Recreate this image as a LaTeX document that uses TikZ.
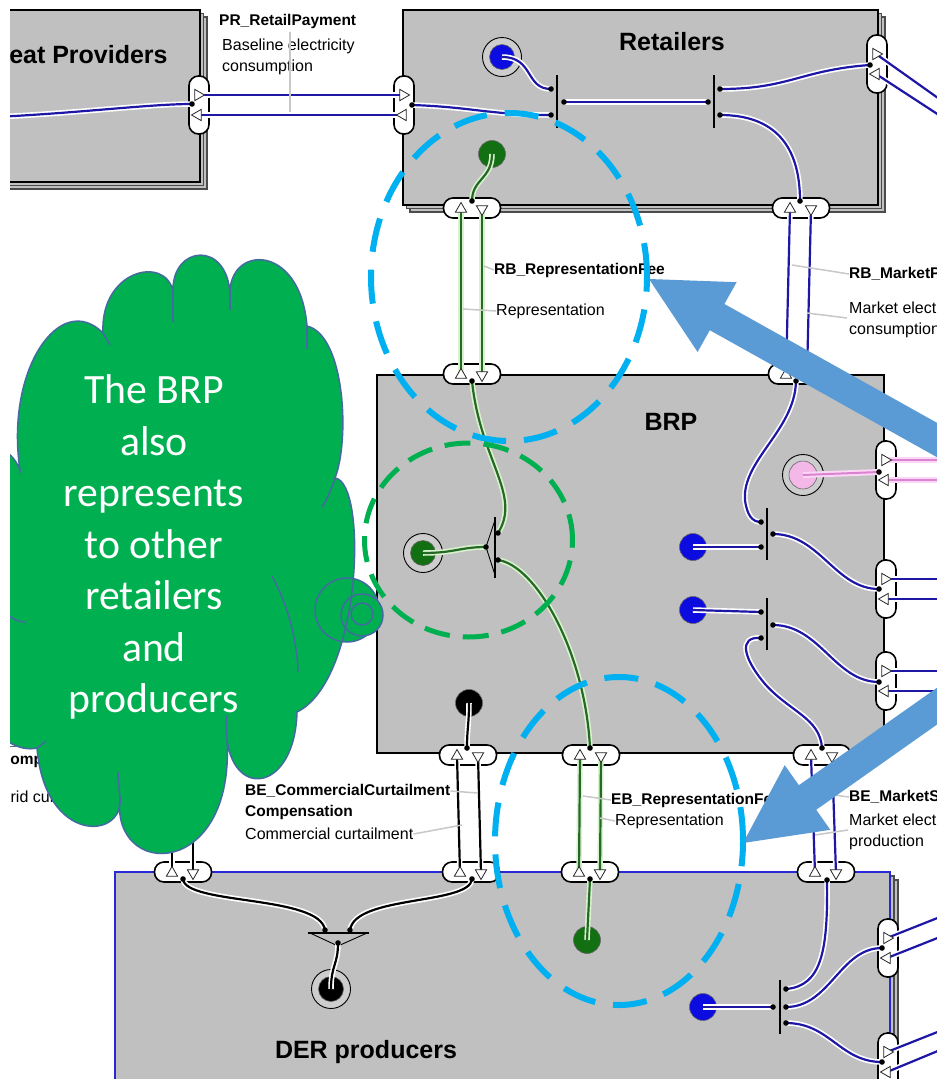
\documentclass[tikz,border=0pt]{standalone}
\usepackage{fontspec}
\setmainfont{Liberation Sans}
\newfontfamily\cloudfont{Carlito}
\usetikzlibrary{shapes.geometric}

\definecolor{boxgray}{RGB}{192,192,192}
\definecolor{wireblue}{RGB}{30,22,165}
\definecolor{wiregreen}{RGB}{38,105,38}
\definecolor{halogreen}{RGB}{215,242,205}
\definecolor{wirepink}{RGB}{220,130,210}
\definecolor{halopink}{RGB}{250,215,245}
\definecolor{leadgray}{RGB}{200,200,200}
\definecolor{ringblue}{RGB}{0,176,240}
\definecolor{ringgreen}{RGB}{0,176,80}
\definecolor{cloudgreen}{RGB}{0,176,80}
\definecolor{cloudedge}{RGB}{68,106,160}
\definecolor{arrowblue}{RGB}{91,155,213}
\definecolor{derblue}{RGB}{40,40,215}
\definecolor{pinkfill}{RGB}{244,184,232}
\definecolor{dotblue}{RGB}{12,12,225}
\definecolor{dotgreen}{RGB}{18,112,18}
\definecolor{ringgray}{RGB}{205,205,205}

% ports on top/bottom edges: pill plus the two triangle positions
\newcommand\hportdef[3]{%
  \node[hpill] (#1) at (#2,#3) {};
  \coordinate (#1-a) at (#2-11,#3+1);
  \coordinate (#1-b) at (#2+10,#3+1);}
% ports on side edges
\newcommand\vportdef[3]{%
  \node[vpill] (#1) at (#2,#3) {};
  \coordinate (#1-a) at (#2-1,#3-10);
  \coordinate (#1-b) at (#2-1,#3+10);}
\newcommand\hporttri[1]{%
  \node[tri] (#1-ta) at (#1-a) {};
  \node[tri, shape border rotate=180] (#1-tb) at (#1-b) {};}
\newcommand\vporttri[1]{%
  \node[tri, shape border rotate=-90] (#1-ta) at (#1-a) {};
  \node[tri, shape border rotate=90] (#1-tb) at (#1-b) {};}
% end point with a grey ring round it
\newcommand\ringend[4]{%
  \node[ringnode] (#1-ring) at (#2,#3) {};
  \node[endnode, fill=#4, minimum size=25pt] (#1) at (#2,#3) {};}
% outline of the thought cloud
\newcommand\cloudpath{(-15,720) .. controls (0,740) and (20,752) .. (37,748)
  .. controls (45,845) and (125,840) .. (120,797)
  .. controls (110,880) and (235,880) .. (227,740)
  .. controls (235,800) and (295,790) .. (297,712)
  .. controls (362,680) and (368,482) .. (335,478)
  .. controls (350,440) and (345,335) .. (307,326)
  .. controls (300,242) and (228,245) .. (230,295)
  .. controls (228,240) and (172,245) .. (173,291)
  .. controls (165,255) and (100,270) .. (103,333)
  .. controls (60,290) and (5,370) .. (20,470)
  .. controls (10,445) and (-10,445) .. (-15,460)}

\begin{document}
\begin{tikzpicture}[x=1pt, y=-1pt,
  box/.style={draw=black, line width=1.8pt, fill=boxgray, anchor=north west, inner sep=0pt, outer sep=0pt},
  layer/.style={draw=black!70, line width=1.1pt, fill=boxgray, anchor=north west, inner sep=0pt, outer sep=0pt},
  hpill/.style={draw=black, line width=1.6pt, fill=white, rounded corners=9.5pt, minimum width=57pt, minimum height=20pt, inner sep=0pt},
  vpill/.style={hpill, minimum width=20pt, minimum height=58pt},
  tri/.style={regular polygon, regular polygon sides=3, draw=black!85, fill=white, line width=0.8pt, minimum size=13pt, inner sep=0pt},
  ringnode/.style={circle, fill=ringgray, draw=black, line width=0.9pt, minimum size=39pt, inner sep=0pt},
  endnode/.style={circle, draw=black!60, line width=0.6pt, minimum size=27pt, inner sep=0pt},
  bw/.style={draw=wireblue, line width=2.2pt, preaction={draw=white, line width=5.5pt}},
  gw/.style={draw=wiregreen, line width=2.2pt, preaction={draw=halogreen, line width=5.5pt}},
  kw/.style={draw=black, line width=2.2pt, preaction={draw=white, line width=5.5pt}},
  pw/.style={draw=wirepink, line width=2pt, preaction={draw=halopink, line width=6pt}},
  bar/.style={draw=black, line width=1.2pt},
  lead/.style={draw=leadgray, line width=1.5pt},
  lbl/.style={font=\fontsize{15.5pt}{18pt}\selectfont\bfseries, anchor=west, inner sep=0pt},
  txt/.style={font=\fontsize{16pt}{20pt}\selectfont, anchor=west, inner sep=0pt},
  ttl/.style={font=\fontsize{25pt}{30pt}\selectfont\bfseries, inner sep=0pt},
  cloudline/.style={draw=cloudedge, line width=1.5pt},
]
\fill[white] (0,0) rectangle (937,1079);
\useasboundingbox (0,0) rectangle (937,1079);
\begin{scope}
\clip (10,0) rectangle (937,1079);

% ---------- boxes ----------
\node[layer, minimum width=220pt, minimum height=172pt] (hpL2) at (-13,17) {};
\node[layer, minimum width=220pt, minimum height=172pt] (hpL1) at (-16.5,13.5) {};
\node[box, minimum width=220pt, minimum height=172pt] (hp) at (-20,10) {};

\node[layer, minimum width=475pt, minimum height=195pt] (rtL2) at (410,17) {};
\node[layer, minimum width=475pt, minimum height=195pt] (rtL1) at (406.5,13.5) {};
\node[box, minimum width=475pt, minimum height=195pt] (rt) at (403,10) {};

\node[box, minimum width=507pt, minimum height=378pt] (bp) at (377,375) {};

\node[layer, minimum width=775pt, minimum height=260pt] (dtL2) at (123,880) {};
\node[layer, minimum width=775pt, minimum height=260pt] (dtL1) at (119,876) {};
\node[box, draw=derblue, line width=2.2pt, minimum width=775pt, minimum height=260pt] (dt) at (115,872) {};

\node[ttl, anchor=west] (hpTitle) at (-9,55) {Heat Providers};
\node[ttl] (rtTitle) at (672,42) {Retailers};
\node[ttl] (bpTitle) at (671,422) {BRP};
\node[ttl] (dtTitle) at (366,1052) {DER producers};

% ---------- ports ----------
\vportdef{hpR}{199}{105}
\vportdef{rtL}{404}{105}
\vportdef{rtR}{877}{64}
\hportdef{rtB1}{472}{208}
\hportdef{rtB2}{801}{208}
\hportdef{bpT1}{472}{374}
\hportdef{bpT2}{797}{374}
\vportdef{bpR1}{886}{470}
\vportdef{bpR2}{886}{589}
\vportdef{bpR3}{886}{681}
\hportdef{bpB1}{468}{755}
\hportdef{bpB2}{591}{755}
\hportdef{bpB3}{822}{755}
\hportdef{dtT1}{183}{872}
\hportdef{dtT2}{471}{872}
\hportdef{dtT3}{590}{872}
\hportdef{dtT4}{826}{872}
\vportdef{drR1}{888}{948}
\vportdef{drR2}{888}{1062}

% ---------- end points ----------
\ringend{rtBlue}{502}{57}{dotblue}
\node[endnode, fill=dotgreen] (rtGreen) at (492,154) {};
\ringend{bpGreen}{423}{553}{dotgreen}
\node[endnode, fill=black] (bpBlack) at (469,703) {};
\node[endnode, fill=dotblue] (bpBlue1) at (693,547) {};
\node[endnode, fill=dotblue] (bpBlue2) at (693,610) {};
\node[ringnode, minimum size=41pt] (bpPink-ring) at (803,475) {};
\node[endnode, fill=pinkfill, minimum size=28pt] (bpPink) at (803,475) {};
\ringend{dtBlack}{331}{989}{black}
\node[endnode, fill=dotgreen] (dtGreen) at (587,940) {};
\node[endnode, fill=dotblue] (dtBlue) at (703,1007) {};

% ---------- connection points ----------
\coordinate (hpIn) at (-5,117);
\coordinate (dHpR) at (192,104);
\coordinate (dRtL) at (412,105);
\coordinate (j1a) at (551,89);
\coordinate (j1b) at (564,102);
\coordinate (j1c) at (551,115);
\coordinate (j2a) at (708,102);
\coordinate (j2b) at (720,89);
\coordinate (j2c) at (720,115);
\coordinate (dRtR) at (870,65);
\coordinate (dRtB1) at (472,201);
\coordinate (dRtB2) at (800,201);
\coordinate (dBpT1) at (472,381);
\coordinate (dBpT2) at (796,381);
\coordinate (s1a) at (498,533);
\coordinate (s1b) at (486,547);
\coordinate (s1c) at (498,560);
\coordinate (k1a) at (761,522);
\coordinate (k1b) at (761,547);
\coordinate (k1c) at (773,534);
\coordinate (k2a) at (761,612);
\coordinate (k2b) at (773,625);
\coordinate (k2c) at (761,638);
\coordinate (dBpR1) at (879,472);
\coordinate (dBpR2) at (879,589);
\coordinate (dBpR3) at (879,682);
\coordinate (dBpB1) at (467,748);
\coordinate (dBpB2) at (590,748);
\coordinate (dBpB3) at (822,748);
\coordinate (dDtT1) at (183,879);
\coordinate (dDtT2) at (472,879);
\coordinate (dDtT3) at (590,879);
\coordinate (dDtT4) at (827,880);
\coordinate (t1) at (325,930);
\coordinate (t2) at (350,930);
\coordinate (t3) at (338,943);
\coordinate (m0) at (773,1007);
\coordinate (m1) at (786,989);
\coordinate (m2) at (786,1007);
\coordinate (m3) at (786,1023);
\coordinate (dDrR1) at (882,948);
\coordinate (dDrR2) at (882,1062);
\coordinate (gcUpA) at (172,780);
\coordinate (gcUpB) at (193,780);
\coordinate (rtOutA) at (945,103);
\coordinate (rtOutB) at (945,119);
\coordinate (bpOut1a) at (945,460);
\coordinate (bpOut1b) at (945,480);
\coordinate (bpOut2a) at (945,579);
\coordinate (bpOut2b) at (945,599);
\coordinate (bpOut3a) at (945,671);
\coordinate (bpOut3b) at (945,691);
\coordinate (drOut1a) at (945,915);
\coordinate (drOut1b) at (945,935);
\coordinate (drOut2a) at (945,1029);
\coordinate (drOut2b) at (945,1048);

% ---------- splitters and junction bars ----------
\draw[bar] (557,75) -- (557,128);
\draw[bar] (714,75) -- (714,128);
\draw[bar] (767,508) -- (767,560);
\draw[bar] (767,598) -- (767,650);
\draw[bar] (780,980) -- (780,1034);
\draw[black, line width=0.9pt, fill=boxgray] (486,547) -- (495,520) -- (495,575) -- cycle;
\draw[bar] (495,517) -- (495,578);
\draw[black, line width=0.9pt, fill=boxgray] (310,933) -- (367,933) -- (338,946) -- cycle;
\draw[bar] (308,933) -- (369,933);

% ---------- flows between boxes ----------
\draw[bw] (hpR-a) -- (rtL-a);
\draw[bw] (hpR-b) -- (rtL-b);
\draw[gw] (rtB1-a) -- (bpT1-a);
\draw[gw] (rtB1-b) -- (bpT1-b);
\draw[bw] (rtB2-a) -- (bpT2-a);
\draw[bw] (rtB2-b) -- (bpT2-b);
\draw[kw] (bpB1-a) -- (dtT2-a);
\draw[kw] (bpB1-b) -- (dtT2-b);
\draw[gw] (bpB2-a) -- (dtT3-a);
\draw[gw] (bpB2-b) -- (dtT3-b);
\draw[bw] (bpB3-a) -- (dtT4-a);
\draw[bw] (bpB3-b) -- (dtT4-b);
\draw[kw] (dtT1-a) -- (gcUpA);
\draw[kw] (dtT1-b) -- (gcUpB);
\draw[bw] (rtR-a) -- (rtOutA);
\draw[bw] (rtR-b) -- (rtOutB);
\draw[pw] (bpR1-a) -- (bpOut1a);
\draw[pw] (bpR1-b) -- (bpOut1b);
\draw[bw] (bpR2-a) -- (bpOut2a);
\draw[bw] (bpR2-b) -- (bpOut2b);
\draw[bw] (bpR3-a) -- (bpOut3a);
\draw[bw] (bpR3-b) -- (bpOut3b);
\draw[bw] (drR1-a) -- (drOut1a);
\draw[bw] (drR1-b) -- (drOut1b);
\draw[bw] (drR2-a) -- (drOut2a);
\draw[bw] (drR2-b) -- (drOut2b);

% ---------- flows inside Heat Providers and Retailers ----------
\draw[bw] (hpIn) .. controls (80,113) and (150,104) .. (dHpR);
\draw[bw] (rtBlue.center) .. controls +(32,0) and +(-26,0) .. (j1a);
\draw[bw] (dRtL) .. controls +(60,2) and +(-60,0) .. (j1c);
\draw[bw] (j1b) -- (j2a);
\draw[bw] (j2b) .. controls +(70,0) and +(-70,5) .. (dRtR);
\draw[bw] (j2c) .. controls +(55,0) and +(0,-55) .. (dRtB2);
\draw[gw] (rtGreen.center) .. controls +(0,25) and +(0,-22) .. (dRtB1);

% ---------- flows inside BRP ----------
\draw[gw] (dBpT1) .. controls (480,460) and (522,495) .. (s1a);
\draw[gw] (bpGreen.center) .. controls (455,553) and (460,547) .. (s1b);
\draw[gw] (s1c) .. controls (535,565) and (585,650) .. (dBpB2);
\draw[kw] (bpBlack.center) .. controls (469,725) and (467,728) .. (dBpB1);
\draw[bw] (dBpT2) .. controls (795,430) and (742,460) .. (745,500) .. controls (747,515) and (752,522) .. (k1a);
\draw[bw] (bpBlue1.center) -- (k1b);
\draw[bw] (k1c) .. controls (820,534) and (835,589) .. (dBpR2);
\draw[bw] (bpBlue2.center) -- (k2a);
\draw[bw] (k2b) .. controls (820,625) and (835,682) .. (dBpR3);
\draw[bw] (k2c) .. controls (738,636) and (743,658) .. (765,684) .. controls (790,712) and (820,718) .. (dBpB3);
\draw[pw] (bpPink.center) -- (dBpR1);

% ---------- flows inside DER producers ----------
\draw[kw] (dDtT1) .. controls (185,905) and (320,895) .. (t1);
\draw[kw] (dDtT2) .. controls (470,905) and (355,895) .. (t2);
\draw[kw] (t3) .. controls (338,965) and (331,965) .. (dtBlack.center);
\draw[gw] (dDtT3) -- (dtGreen.center);
\draw[bw] (dtBlue.center) -- (m0);
\draw[bw] (m1) .. controls (822,986) and (828,950) .. (dDtT4);
\draw[bw] (m2) .. controls (830,1007) and (840,948) .. (dDrR1);
\draw[bw] (m3) .. controls (830,1023) and (840,1062) .. (dDrR2);

% ---------- port triangles and dots ----------
\vporttri{hpR}
\vporttri{rtL}
\vporttri{rtR}
\hporttri{rtB1}
\hporttri{rtB2}
\hporttri{bpT1}
\hporttri{bpT2}
\vporttri{bpR1}
\vporttri{bpR2}
\vporttri{bpR3}
\hporttri{bpB1}
\hporttri{bpB2}
\hporttri{bpB3}
\hporttri{dtT1}
\hporttri{dtT2}
\hporttri{dtT3}
\hporttri{dtT4}
\vporttri{drR1}
\vporttri{drR2}
\foreach \p in {dHpR,dRtL,j1a,j1b,j1c,j2a,j2b,j2c,dRtR,dRtB1,dRtB2,dBpT1,dBpT2,s1a,s1b,s1c,k1a,k1b,k1c,k2a,k2b,k2c,dBpR1,dBpR2,dBpR3,dBpB1,dBpB2,dBpB3,dDtT1,dDtT2,dDtT3,dDtT4,t1,t2,t3,m0,m1,m2,m3,dDrR1,dDrR2}
  \fill[black] (\p) circle (2.8pt);

% ---------- flow labels ----------
\node[lbl] (prPay) at (219,21) {PR\_RetailPayment};
\node[txt] (prTxt1) at (222,46) {Baseline electricity};
\node[txt] (prTxt2) at (222,67) {consumption};
\draw[lead] (290,32) -- (290,112);
\node[lbl] (rbFee) at (494,270) {RB\_RepresentationFee};
\node[txt] (rbRep) at (496,311) {Representation};
\draw[lead] (484,266) -- (rbFee.west);
\draw[lead] (463,309) -- (rbRep.west);
\node[lbl] (rbMkt) at (849,274) {RB\_MarketP};
\node[txt] (rbMkt1) at (849,309) {Market electricity};
\node[txt] (rbMkt2) at (849,330) {consumption};
\draw[lead] (792,265) -- (rbMkt.west);
\draw[lead] (807,313) -- (847,318);
\node[lbl] (beCc1) at (245,791) {BE\_CommercialCurtailment};
\node[lbl] (beCc2) at (245,812) {Compensation};
\node[txt] (beCc3) at (245,834) {Commercial curtailment};
\draw[lead] (beCc1.east) -- (478,793);
\draw[lead] (beCc3.east) -- (462,825);
\node[lbl] (ebFee) at (611,800) {EB\_RepresentationFee};
\node[txt] (ebRep) at (615,821) {Representation};
\draw[lead] (583,796) -- (ebFee.west);
\draw[lead] (600,818) -- (ebRep.west);
\node[lbl] (beMkt) at (849,797) {BE\_MarketS};
\node[txt] (beMkt1) at (849,821) {Market electricity};
\node[txt] (beMkt2) at (849,842) {production};
\draw[lead] (834,795) -- (beMkt.west);
\draw[lead] (815,835) -- (848,830);
\node[lbl] (beGc1) at (-12,741) {BE\_GridCurtailment};
\node[lbl] (beGc2) at (-1,760) {Compensation};
\node[txt] (beGc3) at (-2,797) {Grid curtailment};

% ---------- highlight arrows ----------
\fill[arrowblue] (649,279) -- (736.6,282.2) -- (724.4,304.0) -- (986.3,450.4) -- (971.7,476.6) -- (709.8,330.2) -- (697.6,352) -- cycle;
\fill[arrowblue] (743,843) -- (784.7,765.2) -- (798.9,785.2) -- (1003.3,641.0) -- (1020.5,665.6) -- (816.2,809.8) -- (830.3,829.8) -- cycle;

% ---------- dashed highlight rings ----------
\draw[ringblue, line width=6pt, dash pattern=on 34pt off 18pt] (509,277) ellipse [x radius=138pt, y radius=164pt];
\draw[ringgreen, line width=5pt, dash pattern=on 26pt off 13pt] (468.5,540) ellipse [x radius=104pt, y radius=97pt];
\draw[ringblue, line width=6pt, dash pattern=on 34pt off 18pt] (619,841) ellipse [x radius=124pt, y radius=164pt];

% ---------- thought cloud ----------
\fill[cloudgreen] \cloudpath -- cycle;
\draw[cloudline, fill=cloudgreen] (347,610) circle (32pt);
\draw[cloudline, fill=cloudgreen] (362,615) circle (21pt);
\draw[cloudline, fill=cloudgreen] (362,614) circle (11pt);
\draw[cloudline] \cloudpath;
\draw[cloudline] (335,478) .. controls (331,490) and (327,500) .. (322,507);
\draw[cloudline] (272,576) .. controls (288,605) and (297,640) .. (298,672);
\draw[cloudline] (227,740) .. controls (226,730) and (226,722) .. (227,715);
\draw[cloudline] (120,797) .. controls (119,788) and (118,780) .. (118,772);
\draw[cloudline] (37,748) .. controls (40,746) and (43,744) .. (46,741);
\draw[cloudline] (103,333) .. controls (105,337) and (108,341) .. (110,345);
\draw[cloudline] (173,291) .. controls (173,302) and (173,312) .. (173,322);
\draw[cloudline] (230,295) .. controls (230,300) and (230,305) .. (230,310);
\draw[cloudline] (307,326) .. controls (307,334) and (307,342) .. (307,349);
\draw[cloudline] (8,615) .. controls (14,620) and (20,622) .. (25,622);
\node[text=white, align=center, inner sep=0pt, font=\cloudfont\fontsize{41.7pt}{51.5pt}\selectfont] (cloudText) at (154,547)
  {The BRP\\also\\represents\\to other\\retailers\\and\\producers};
\end{scope}
\end{tikzpicture}
\end{document}
